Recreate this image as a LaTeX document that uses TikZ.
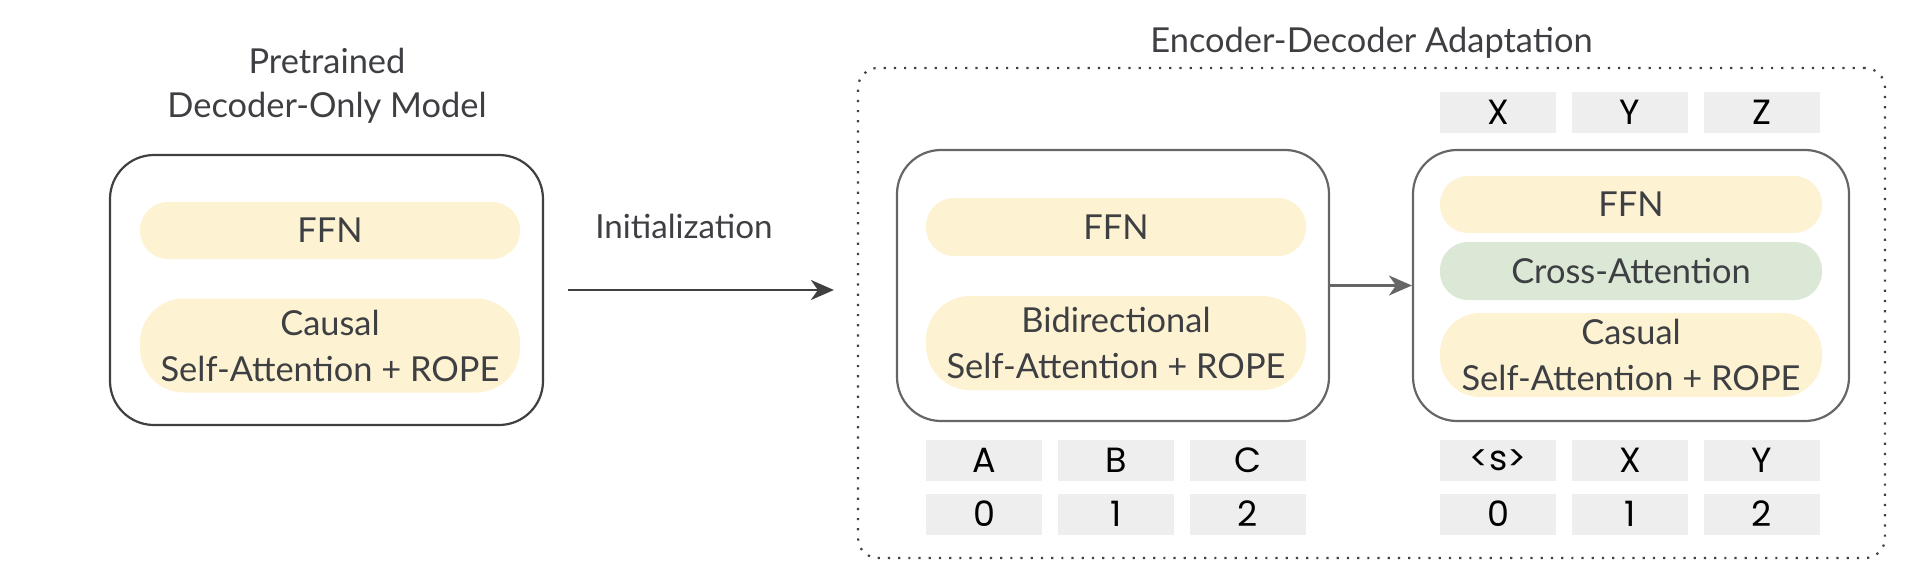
\documentclass[tikz,border=0pt]{standalone}
\usepackage{fontspec}
\setmainfont{Lato}
\newfontfamily\tokenfont{Poppins}
\usetikzlibrary{arrows.meta}

\definecolor{schrift}{HTML}{3D3F42}
\definecolor{creme}{HTML}{FDF2D2}
\definecolor{salbei}{HTML}{DCE8D6}
\definecolor{kasten}{HTML}{EEEEEE}
\definecolor{linie}{HTML}{666666}
\definecolor{dunkel}{HTML}{404040}

\tikzset{
  block/.style={draw=linie, line width=1.1pt, rounded corners=22pt, minimum width=216pt, minimum height=135.5pt, inner sep=0pt},
  schicht/.style={fill=creme, text=schrift, rounded corners=14pt, minimum width=190pt, minimum height=28.5pt, inner sep=0pt, align=center, font=\fontsize{17.2pt}{23pt}\selectfont},
  hoch/.style={rounded corners=22pt, minimum height=47pt},
  token/.style={fill=kasten, text=black, minimum width=58pt, minimum height=20.5pt, inner sep=0pt, font=\tokenfont\fontsize{17.5pt}{20pt}\selectfont},
  titel/.style={text=schrift, align=center, inner sep=0pt, font=\fontsize{17.2pt}{22pt}\selectfont}
}

\begin{document}
\begin{tikzpicture}[x=0.5pt, y=-0.5pt, >={Stealth[length=11.5pt, width=10pt, inset=3.5pt]}]
\useasboundingbox (0,0) rectangle (1920,568);

% pretrained model
\node [titel, name=kopf] at (327,86) {Pretrained\\Decoder-Only Model};
\node [block, draw=dunkel, minimum width=216.5pt, minimum height=135pt, name=vorlage] at (326.5,290) {};
\node [schicht, name=vffn] at (330,230.5) {FFN};
\node [schicht, hoch, name=vattn] at (330,345.5) {Causal\\Self-Attention + ROPE};

\node [titel, anchor=base, font=\fontsize{16.6pt}{22pt}\selectfont, name=init] at (684,238) {Initialization};

% adaptation
\node [draw=dunkel, line width=1.1pt, dash pattern=on 1.1pt off 4pt, rounded corners=10pt, minimum width=513.5pt, minimum height=245pt, inner sep=0pt, name=rahmen] at (1371.5,313) {};
\node [titel, anchor=base, name=ueber] at (1371.5,52) {Encoder-Decoder Adaptation};

\draw [->, draw=dunkel, line width=1.3pt, shorten <=12pt, shorten >=11.5pt] (vorlage.east) -- (vorlage.east -| rahmen.west);

% encoder
\node [block, minimum width=216pt, name=kodierer] at (1113,285.5) {};
\node [schicht, minimum height=29pt, name=effn] at (1116,227) {FFN};
\node [schicht, hoch, name=eattn] at (1116,343) {Bidirectional\\Self-Attention + ROPE};

% decoder
\node [block, minimum width=218pt, name=dekodierer] at (1631,285.5) {};
\node [schicht, minimum width=191pt, name=dffn] at (1631,204.5) {FFN};
\node [schicht, minimum width=191pt, minimum height=29pt, fill=salbei, name=kreuz] at (1631,271) {Cross-Attention};
\node [schicht, hoch, minimum width=191pt, minimum height=42pt, rounded corners=20pt, name=dattn] at (1631,355) {Casual\\Self-Attention + ROPE};

\draw [->, draw=linie, line width=1.1pt] (kodierer.east) -- (dekodierer.west);

% tokens
\node [token, name=ausx] at (1498,112) {X};
\node [token, name=ausy] at (1630,112) {Y};
\node [token, name=ausz] at (1762,112) {Z};

\node [token, name=eina] at (984,460.5) {A};
\node [token, name=einb] at (1116,460.5) {B};
\node [token, name=einc] at (1248,460.5) {C};
\node [token, name=posa] at (984,514) {0};
\node [token, name=posb] at (1116,514) {1};
\node [token, name=posc] at (1248,514) {2};

\node [token, name=eins] at (1498,460.5) {<s>};
\node [token, name=einx] at (1630,460.5) {X};
\node [token, name=einy] at (1762,460.5) {Y};
\node [token, name=poss] at (1498,514) {0};
\node [token, name=posx] at (1630,514) {1};
\node [token, name=posy] at (1762,514) {2};
\end{tikzpicture}
\end{document}
